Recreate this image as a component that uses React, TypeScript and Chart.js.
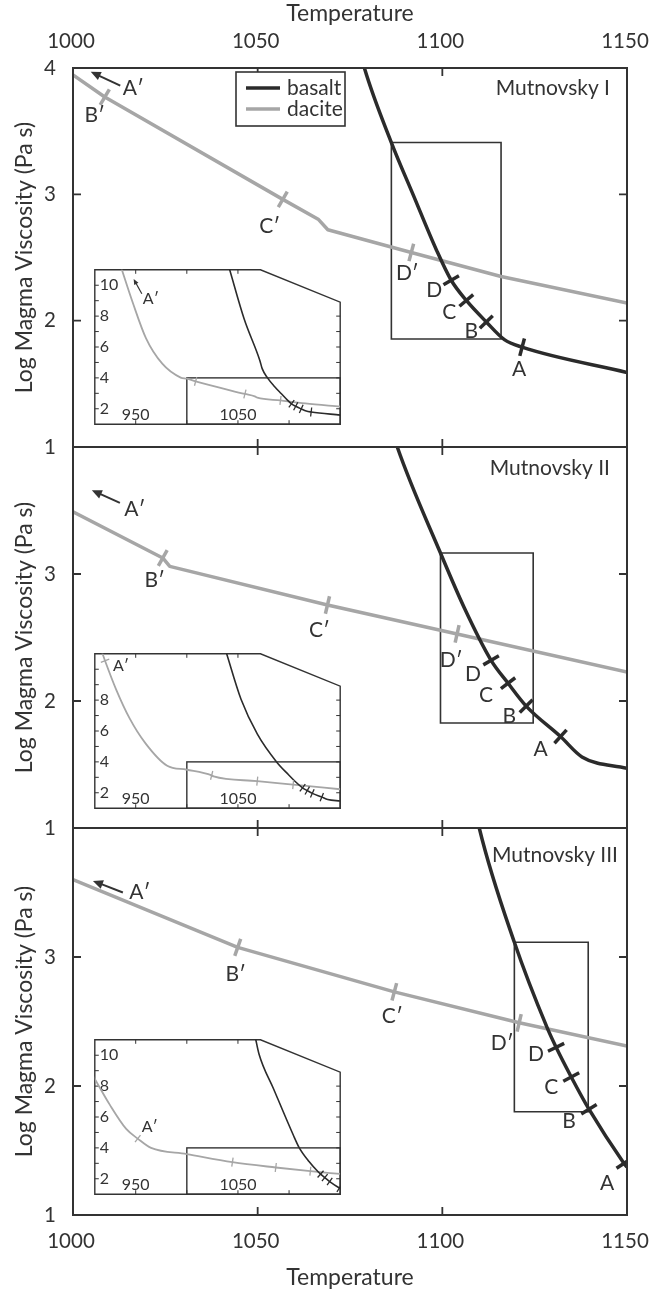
import React, { useEffect, useRef } from "react";
import { Chart, registerables } from "chart.js";

Chart.register(...registerables);

/* ------------------------------------------------------------------ */
/* data                                                                */
/* ------------------------------------------------------------------ */
const tempTicks = [1000, 1050, 1100, 1150];
const viscTicks = [1, 2, 3, 4];
const insetTempTicks = [950, 1000, 1050, 1100, 1150];
const insetTempLabels = [950, 1050];
const insetViscTicks = [1, 2, 3, 4, 5, 6, 7, 8, 9, 10, 11];
const insetViscLabels = [2, 4, 6, 8, 10];

const panelTitles = ["Mutnovsky I", "Mutnovsky II", "Mutnovsky III"];
const seriesNames = ["basalt", "dacite"];
const axisTitleX = "Temperature";
const axisTitleY = "Log Magma Viscosity (Pa s)";

// Mutnovsky I
const daciteT1 = [936, 947, 960, 976, 994, 1000, 1008.6, 1056.8, 1066.5, 1069, 1091.6, 1115.9, 1150];
const daciteV1 = [11.1, 8.9, 6.58, 4.92, 4.02, 3.945, 3.77, 2.96, 2.8, 2.72, 2.54, 2.35, 2.14];
const basaltT1 = [1041.5, 1056, 1071.4, 1073.7, 1078.9, 1086.2, 1092.2, 1098.4, 1102.4, 1106.5, 1111.9, 1116.8, 1121.6, 1150];
const basaltV1 = [11.1, 7.83, 5.13, 4.6, 4.0, 3.41, 2.99, 2.56, 2.32, 2.16, 1.99, 1.85, 1.79, 1.59];
const daciteMarkT1 = [1008.6, 1056.8, 1091.6];
const daciteMarkV1 = [3.77, 2.96, 2.54];
const daciteMarkNames1 = ["B′", "C′", "D′"];
const basaltMarkT1 = [1102.4, 1106.5, 1111.9, 1121.6];
const basaltMarkV1 = [2.32, 2.16, 1.99, 1.79];
const basaltMarkNames1 = ["D", "C", "B", "A"];
const box1 = [1086.2, 1115.9, 1.855, 3.41];

// Mutnovsky II
const daciteT2 = [916, 920, 930.8, 944.2, 959.6, 980.8, 1000, 1024.3, 1026.2, 1068.9, 1104, 1150];
const daciteV2 = [11.3, 10.55, 8.7, 6.8, 5.2, 3.75, 3.49, 3.126, 3.06, 2.756, 2.528, 2.228];
const basaltT2 = [1038.5, 1053, 1069, 1087.8, 1099.5, 1106, 1113.2, 1117.8, 1122.7, 1132, 1137.8, 1150];
const basaltV2 = [11.1, 8.06, 5.8, 4.0, 3.165, 2.73, 2.32, 2.14, 1.96, 1.72, 1.56, 1.47];
const daciteMarkT2 = [920, 1024.3, 1068.9, 1104];
const daciteMarkV2 = [10.55, 3.126, 2.756, 2.528];
const daciteMarkNames2 = ["A′", "B′", "C′", "D′"];
const basaltMarkT2 = [1113.2, 1117.8, 1122.7, 1132];
const basaltMarkV2 = [2.32, 2.14, 1.96, 1.72];
const basaltMarkNames2 = ["D", "C", "B", "A"];
const box2 = [1099.5, 1124.6, 1.827, 3.165];

// Mutnovsky III
const daciteT3 = [908, 924.6, 940.7, 952, 965, 1000, 1044.6, 1087, 1120.8, 1150];
const daciteV3 = [8.7, 6.8, 5.23, 4.6, 4.0, 3.6, 3.075, 2.73, 2.49, 2.31];
const basaltT3 = [1067, 1070.5, 1085, 1104, 1110, 1119.5, 1128.4, 1130.8, 1134.9, 1139.7, 1149.2, 1150];
const basaltV3 = [11.15, 10.1, 7.8, 4.85, 4.0, 3.114, 2.45, 2.3, 2.07, 1.82, 1.4, 1.37];
const daciteMarkT3 = [952, 1044.6, 1087, 1120.8];
const daciteMarkV3 = [4.6, 3.075, 2.73, 2.49];
const daciteMarkNames3 = ["A′", "B′", "C′", "D′"];
const basaltMarkT3 = [1130.8, 1134.9, 1139.7, 1149.2];
const basaltMarkV3 = [2.3, 2.07, 1.82, 1.4];
const basaltMarkNames3 = ["D", "C", "B", "A"];
const box3 = [1119.5, 1139.5, 1.8, 3.114];

// A′ arrows (annotation, data coordinates: head / tail)
const arrowHeadT = [1004.8, 1005.1, 1005.4];
const arrowHeadV = [3.97, 3.66, 3.59];
const arrowTailT = [1012.8, 1012.7, 1013.5];
const arrowTailV = [3.86, 3.56, 3.5];
const insetArrowHead1 = [948, 10.4];
const insetArrowTail1 = [956, 9.45];

/* ------------------------------------------------------------------ */
/* styles / layout                                                     */
/* ------------------------------------------------------------------ */
const FONT = "Lato, 'Open Sans', 'DejaVu Sans', sans-serif";
const INK = "#333333";
const BASALT_COLOR = "#2b2b2b";
const DACITE_COLOR = "#a6a6a6";
const W = 649;
const Y_AXIS_W = 73;
const RIGHT_PAD = 22;
const TICK_FONT = 20.5;
const AXIS_TITLE_FONT = 23;
const LABEL_FONT = 21;

const mainLayout = [
  { top: 0, height: 470, padTop: 0, padBottom: 23, xPos: "top", xHeight: 68 },
  { top: 430, height: 420, padTop: 17, padBottom: 22, xPos: "", xHeight: 0 },
  { top: 810, height: 481, padTop: 18, padBottom: 0, xPos: "bottom", xHeight: 76 },
];
const insetLayout = [
  { left: 92, top: 267, width: 251, height: 160 },
  { left: 92, top: 651, width: 251, height: 160 },
  { left: 92, top: 1037, width: 251, height: 160 },
];
const INSET_PAD = 3;
const insetCut = { t: 1072, v: 8.9 };

const panelStyle: any[] = [
  {
    titleDx: 17,
    titleDy: 20,
    daciteOff: [[-10, 18], [-13, 27], [-4, 21]],
    basaltOff: [[-17, 10], [-17, 12], [-15, 9], [-3, 22]],
    arrowLabelOff: [13, 3],
    insetArrowLabelOff: [9, 5],
    insetMarkLabelOff: null,
  },
  {
    titleDx: 17,
    titleDy: 21,
    daciteOff: [null, [-8, 22], [-8, 25], [-6, 26]],
    basaltOff: [[-18, 14], [-22, 12], [-17, 10], [-20, 13]],
    arrowLabelOff: [15, 6],
    insetArrowLabelOff: null,
    insetMarkLabelOff: [16, 5],
  },
  {
    titleDx: 9,
    titleDy: 27,
    daciteOff: [null, [-2, 27], [-2, 24], [-17, 20]],
    basaltOff: [[-20, 7], [-20, 10], [-20, 12], [-17, 20]],
    arrowLabelOff: [17, 0],
    insetArrowLabelOff: null,
    insetMarkLabelOff: [12, -12],
  },
];

const legendBox = { left: 236, top: 72, width: 109, height: 54 };

/* ------------------------------------------------------------------ */
/* panel tables built from the arrays                                  */
/* ------------------------------------------------------------------ */
type Curve = { t: number[]; v: number[] };
type Marks = { t: number[]; v: number[]; names: string[] };

const panels = [
  {
    title: panelTitles[0],
    dacite: { t: daciteT1, v: daciteV1 },
    basalt: { t: basaltT1, v: basaltV1 },
    daciteMarks: { t: daciteMarkT1, v: daciteMarkV1, names: daciteMarkNames1 },
    basaltMarks: { t: basaltMarkT1, v: basaltMarkV1, names: basaltMarkNames1 },
    box: box1,
  },
  {
    title: panelTitles[1],
    dacite: { t: daciteT2, v: daciteV2 },
    basalt: { t: basaltT2, v: basaltV2 },
    daciteMarks: { t: daciteMarkT2, v: daciteMarkV2, names: daciteMarkNames2 },
    basaltMarks: { t: basaltMarkT2, v: basaltMarkV2, names: basaltMarkNames2 },
    box: box2,
  },
  {
    title: panelTitles[2],
    dacite: { t: daciteT3, v: daciteV3 },
    basalt: { t: basaltT3, v: basaltV3 },
    daciteMarks: { t: daciteMarkT3, v: daciteMarkV3, names: daciteMarkNames3 },
    basaltMarks: { t: basaltMarkT3, v: basaltMarkV3, names: basaltMarkNames3 },
    box: box3,
  },
];

/* ------------------------------------------------------------------ */
/* helpers                                                             */
/* ------------------------------------------------------------------ */
function pts(t: number[], v: number[]) {
  return t.map((x, i) => ({ x, y: v[i] }));
}

function perpAngle(chart: any, curve: Curve, t: number): number {
  const xs = chart.scales.x;
  const ys = chart.scales.y;
  const T = curve.t;
  const V = curve.v;
  let a = 0;
  let b = 1;
  for (let i = 0; i < T.length - 1; i++) {
    if (t >= T[i] && t <= T[i + 1]) {
      a = i;
      b = i + 1;
      break;
    }
  }
  if (t === T[b] && b + 1 < T.length) b = b + 1;
  const dx = xs.getPixelForValue(T[b]) - xs.getPixelForValue(T[a]);
  const dy = ys.getPixelForValue(V[b]) - ys.getPixelForValue(V[a]);
  return (Math.atan2(dy, dx) * 180) / Math.PI + 90;
}

function curveDataset(curve: Curve, color: string, width: number, smooth: boolean) {
  return {
    data: pts(curve.t, curve.v),
    showLine: true,
    borderColor: color,
    borderWidth: width,
    pointRadius: 0,
    cubicInterpolationMode: smooth ? "monotone" : "default",
    tension: 0,
    borderJoinStyle: "round",
    clip: 0,
    fill: false,
  };
}

function markDataset(marks: Marks, curve: Curve, color: string, radius: number, width: number) {
  return {
    data: pts(marks.t, marks.v),
    showLine: false,
    pointStyle: "line",
    pointRadius: radius,
    pointBorderWidth: width,
    pointBorderColor: color,
    pointBackgroundColor: color,
    pointRotation: (ctx: any) => (ctx.raw ? perpAngle(ctx.chart, curve, ctx.raw.x) : 0),
  };
}

function boxDataset(box: number[]) {
  const [t0, t1, v0, v1] = box;
  return {
    data: [
      { x: t0, y: v1 },
      { x: t1, y: v1 },
      { x: t1, y: v0 },
      { x: t0, y: v0 },
      { x: t0, y: v1 },
    ],
    showLine: true,
    borderColor: INK,
    borderWidth: 1.6,
    pointRadius: 0,
    tension: 0,
    clip: 0,
  };
}

function drawArrow(ctx: CanvasRenderingContext2D, x1: number, y1: number, x2: number, y2: number, head: number, width: number) {
  const ang = Math.atan2(y2 - y1, x2 - x1);
  ctx.save();
  ctx.strokeStyle = INK;
  ctx.fillStyle = INK;
  ctx.lineWidth = width;
  ctx.beginPath();
  ctx.moveTo(x1, y1);
  ctx.lineTo(x2 - Math.cos(ang) * head * 0.7, y2 - Math.sin(ang) * head * 0.7);
  ctx.stroke();
  ctx.beginPath();
  ctx.moveTo(x2, y2);
  ctx.lineTo(x2 - head * Math.cos(ang - 0.42), y2 - head * Math.sin(ang - 0.42));
  ctx.lineTo(x2 - head * Math.cos(ang + 0.42), y2 - head * Math.sin(ang + 0.42));
  ctx.closePath();
  ctx.fill();
  ctx.restore();
}

function inside(a: any, x: number, y: number) {
  return x >= a.left - 0.5 && x <= a.right + 0.5 && y >= a.top - 0.5 && y <= a.bottom + 0.5;
}

/* ------------------------------------------------------------------ */
/* main panel chart                                                    */
/* ------------------------------------------------------------------ */
function mainConfig(i: number): any {
  const p = panels[i];
  const L = mainLayout[i];
  const S = panelStyle[i];
  const tickFont = { family: FONT, size: TICK_FONT };
  const titleFont = { family: FONT, size: AXIS_TITLE_FONT };

  const annot = {
    id: "mainAnnot" + i,
    afterDatasetsDraw(chart: any) {
      const { ctx, chartArea: a, scales } = chart;
      const x = scales.x;
      const y = scales.y;
      ctx.save();
      // frame
      ctx.strokeStyle = INK;
      ctx.lineWidth = 2;
      ctx.strokeRect(a.left, a.top, a.right - a.left, a.bottom - a.top);
      // inward ticks
      ctx.lineWidth = 1.8;
      ctx.beginPath();
      tempTicks.forEach((t) => {
        if (t <= x.min || t >= x.max) return;
        const px = x.getPixelForValue(t);
        ctx.moveTo(px, a.top);
        ctx.lineTo(px, a.top + 8);
        ctx.moveTo(px, a.bottom);
        ctx.lineTo(px, a.bottom - 8);
      });
      viscTicks.forEach((v) => {
        if (v <= y.min || v >= y.max) return;
        const py = y.getPixelForValue(v);
        ctx.moveTo(a.left, py);
        ctx.lineTo(a.left + 8, py);
        ctx.moveTo(a.right, py);
        ctx.lineTo(a.right - 8, py);
      });
      ctx.stroke();

      // mark labels
      ctx.font = `${LABEL_FONT}px ${FONT}`;
      ctx.fillStyle = INK;
      ctx.textAlign = "center";
      ctx.textBaseline = "middle";
      const lab = (m: Marks, offs: any[]) => {
        m.t.forEach((t, k) => {
          const off = offs[k];
          if (!off) return;
          const px = x.getPixelForValue(t);
          const py = y.getPixelForValue(m.v[k]);
          if (!inside(a, px, py)) return;
          ctx.fillText(m.names[k], px + off[0], py + off[1]);
        });
      };
      lab(p.daciteMarks, S.daciteOff);
      lab(p.basaltMarks, S.basaltOff);

      // A′ arrow
      const hx = x.getPixelForValue(arrowHeadT[i]);
      const hy = y.getPixelForValue(arrowHeadV[i]);
      const tx = x.getPixelForValue(arrowTailT[i]);
      const ty = y.getPixelForValue(arrowTailV[i]);
      drawArrow(ctx, tx, ty, hx, hy, 11, 2);
      ctx.fillText("A′", tx + S.arrowLabelOff[0], ty + S.arrowLabelOff[1]);

      // panel title
      ctx.textAlign = "right";
      ctx.fillText(p.title, a.right - S.titleDx, a.top + S.titleDy);

      // legend (first panel)
      if (i === 0) {
        const b = legendBox;
        ctx.fillStyle = "#ffffff";
        ctx.fillRect(b.left, b.top, b.width, b.height);
        ctx.strokeStyle = INK;
        ctx.lineWidth = 1.6;
        ctx.strokeRect(b.left, b.top, b.width, b.height);
        const colors = [BASALT_COLOR, DACITE_COLOR];
        ctx.font = `21px ${FONT}`;
        seriesNames.forEach((name, k) => {
          const yy = b.top + 16 + k * 21;
          ctx.strokeStyle = colors[k];
          ctx.lineWidth = 3.5;
          ctx.beginPath();
          ctx.moveTo(b.left + 10, yy);
          ctx.lineTo(b.left + 44, yy);
          ctx.stroke();
          ctx.fillStyle = INK;
          ctx.textAlign = "left";
          ctx.fillText(name, b.left + 51, yy);
        });
      }
      ctx.restore();
    },
  };

  return {
    type: "scatter",
    data: {
      datasets: [
        markDataset(p.basaltMarks, p.basalt, BASALT_COLOR, 9, 3.5),
        markDataset(p.daciteMarks, p.dacite, DACITE_COLOR, 9, 3.5),
        curveDataset(p.basalt, BASALT_COLOR, 3.5, true),
        curveDataset(p.dacite, DACITE_COLOR, 3.5, false),
        boxDataset(p.box),
      ],
    },
    options: {
      responsive: false,
      animation: false,
      events: [],
      layout: { padding: { left: 0, right: RIGHT_PAD, top: L.padTop, bottom: L.padBottom } },
      plugins: { legend: { display: false }, tooltip: { enabled: false }, title: { display: false } },
      scales: {
        x: {
          type: "linear",
          min: tempTicks[0],
          max: tempTicks[tempTicks.length - 1],
          position: L.xPos || "bottom",
          display: !!L.xPos,
          afterBuildTicks: (s: any) => {
            s.ticks = tempTicks.map((v) => ({ value: v }));
          },
          afterFit: (s: any) => {
            s.height = L.xHeight;
            s.paddingLeft = 0;
            s.paddingRight = 0;
          },
          ticks: {
            font: tickFont,
            color: INK,
            padding: 14,
            labelOffset: -2,
            autoSkip: false,
            maxRotation: 0,
            callback: (v: any) => String(v),
          },
          grid: { display: false, drawTicks: false },
          border: { display: false },
          title: {
            display: true,
            text: axisTitleX,
            font: titleFont,
            color: INK,
            padding: { top: 0, bottom: 0 },
          },
        },
        y: {
          type: "linear",
          min: viscTicks[0],
          max: viscTicks[viscTicks.length - 1],
          afterBuildTicks: (s: any) => {
            s.ticks = viscTicks.map((v) => ({ value: v }));
          },
          afterFit: (s: any) => {
            s.width = Y_AXIS_W;
            s.paddingTop = 0;
            s.paddingBottom = 0;
          },
          ticks: {
            font: tickFont,
            color: INK,
            padding: 17,
            autoSkip: false,
            callback: (v: any) => (i > 0 && v === viscTicks[viscTicks.length - 1] ? "" : String(v)),
          },
          grid: { display: false, drawTicks: false },
          border: { display: false },
          title: { display: true, text: axisTitleY, font: titleFont, color: INK, padding: { top: 11, bottom: 0 } },
        },
      },
    },
    plugins: [annot],
  };
}

/* ------------------------------------------------------------------ */
/* inset chart                                                         */
/* ------------------------------------------------------------------ */
function insetConfig(i: number): any {
  const p = panels[i];
  const S = panelStyle[i];
  const font = { family: FONT, size: 16 };

  const frame = {
    id: "insetFrame" + i,
    beforeDraw(chart: any) {
      const { ctx, chartArea: a, scales } = chart;
      const x = scales.x;
      const y = scales.y;
      const cutX = x.getPixelForValue(insetCut.t);
      const cutY = y.getPixelForValue(insetCut.v);
      ctx.save();
      ctx.beginPath();
      ctx.moveTo(a.left, a.bottom);
      ctx.lineTo(a.left, a.top);
      ctx.lineTo(cutX, a.top);
      ctx.lineTo(a.right, cutY);
      ctx.lineTo(a.right, a.bottom);
      ctx.closePath();
      ctx.fillStyle = "#ffffff";
      ctx.fill();
      ctx.strokeStyle = INK;
      ctx.lineWidth = 1.4;
      ctx.stroke();
      // rectangle of the main panel range
      const rx0 = x.getPixelForValue(tempTicks[0]);
      const rx1 = x.getPixelForValue(tempTicks[tempTicks.length - 1]);
      const ry0 = y.getPixelForValue(viscTicks[0]);
      const ry1 = y.getPixelForValue(viscTicks[viscTicks.length - 1]);
      ctx.strokeRect(rx0, ry1, rx1 - rx0, ry0 - ry1);
      // inward ticks
      ctx.lineWidth = 1;
      ctx.beginPath();
      insetTempTicks.forEach((t) => {
        if (t <= x.min || t >= x.max) return;
        const px = x.getPixelForValue(t);
        ctx.moveTo(px, a.bottom);
        ctx.lineTo(px, a.bottom - 4);
        if (t < insetCut.t) {
          ctx.moveTo(px, a.top);
          ctx.lineTo(px, a.top + 4);
        }
      });
      insetViscTicks.forEach((v) => {
        if (v <= y.min || v >= y.max) return;
        const py = y.getPixelForValue(v);
        ctx.moveTo(a.left, py);
        ctx.lineTo(a.left + 4, py);
        if (v < insetCut.v) {
          ctx.moveTo(a.right, py);
          ctx.lineTo(a.right - 4, py);
        }
      });
      ctx.stroke();
      ctx.restore();
    },
    afterDatasetsDraw(chart: any) {
      const { ctx, scales } = chart;
      const x = scales.x;
      const y = scales.y;
      ctx.save();
      ctx.font = `16px ${FONT}`;
      ctx.fillStyle = INK;
      ctx.textAlign = "center";
      ctx.textBaseline = "middle";
      if (S.insetMarkLabelOff) {
        const m = p.daciteMarks;
        const k = m.names.indexOf("A′");
        if (k >= 0) {
          const px = x.getPixelForValue(m.t[k]);
          const py = y.getPixelForValue(m.v[k]);
          ctx.fillText(m.names[k], px + S.insetMarkLabelOff[0], py + S.insetMarkLabelOff[1]);
        }
      }
      if (S.insetArrowLabelOff) {
        const hx = x.getPixelForValue(insetArrowHead1[0]);
        const hy = y.getPixelForValue(insetArrowHead1[1]);
        const tx = x.getPixelForValue(insetArrowTail1[0]);
        const ty = y.getPixelForValue(insetArrowTail1[1]);
        drawArrow(ctx, tx, ty, hx, hy, 6, 1.2);
        ctx.fillText("A′", tx + S.insetArrowLabelOff[0], ty + S.insetArrowLabelOff[1]);
      }
      ctx.restore();
    },
  };

  const yLabels = i === 1 ? insetViscLabels.filter((v) => v !== 10) : insetViscLabels;

  return {
    type: "scatter",
    data: {
      datasets: [
        markDataset(p.basaltMarks, p.basalt, BASALT_COLOR, 4.5, 1.3),
        markDataset(p.daciteMarks, p.dacite, DACITE_COLOR, 4.5, 1.3),
        curveDataset(p.basalt, BASALT_COLOR, 1.6, true),
        curveDataset(p.dacite, DACITE_COLOR, 1.8, true),
      ],
    },
    options: {
      responsive: false,
      animation: false,
      events: [],
      layout: { padding: INSET_PAD },
      plugins: { legend: { display: false }, tooltip: { enabled: false } },
      scales: {
        x: {
          type: "linear",
          min: 910,
          max: tempTicks[tempTicks.length - 1],
          afterBuildTicks: (s: any) => {
            s.ticks = insetTempTicks.map((v) => ({ value: v }));
          },
          afterFit: (s: any) => {
            s.height = 0;
            s.paddingLeft = 0;
            s.paddingRight = 0;
          },
          ticks: {
            mirror: true,
            padding: 0,
            font,
            color: INK,
            autoSkip: false,
            maxRotation: 0,
            callback: (v: any) => (insetTempLabels.includes(v) ? String(v) : ""),
          },
          grid: { display: false, drawTicks: false },
          border: { display: false },
        },
        y: {
          type: "linear",
          min: insetViscTicks[0],
          max: insetViscTicks[insetViscTicks.length - 1],
          afterBuildTicks: (s: any) => {
            s.ticks = insetViscTicks.map((v) => ({ value: v }));
          },
          afterFit: (s: any) => {
            s.width = 0;
            s.paddingTop = 0;
            s.paddingBottom = 0;
          },
          ticks: {
            mirror: true,
            padding: 5,
            font,
            color: INK,
            autoSkip: false,
            callback: (v: any) => (yLabels.includes(v) ? String(v) : ""),
          },
          grid: { display: false, drawTicks: false },
          border: { display: false },
        },
      },
    },
    plugins: [frame],
  };
}

/* ------------------------------------------------------------------ */
/* component                                                           */
/* ------------------------------------------------------------------ */
export default function App() {
  const refs = useRef<(HTMLCanvasElement | null)[]>([]);

  useEffect(() => {
    const charts: Chart[] = [];
    for (let i = 0; i < 3; i++) {
      const c = refs.current[i];
      if (c) charts.push(new Chart(c, mainConfig(i)));
    }
    for (let i = 0; i < 3; i++) {
      const c = refs.current[3 + i];
      if (c) charts.push(new Chart(c, insetConfig(i)));
    }
    return () => charts.forEach((c) => c.destroy());
  }, []);

  const canvases: any[] = [];
  mainLayout.forEach((L, i) => {
    canvases.push({ key: "m" + i, left: 0, top: L.top, width: W, height: L.height, idx: i });
  });
  insetLayout.forEach((L, i) => {
    canvases.push({
      key: "i" + i,
      left: L.left - INSET_PAD,
      top: L.top - INSET_PAD,
      width: L.width + 2 * INSET_PAD,
      height: L.height + 2 * INSET_PAD,
      idx: 3 + i,
    });
  });

  return (
    <div style={{ position: "absolute", left: 0, top: 0, width: W, height: 1291, background: "#ffffff", overflow: "hidden" }}>
      {canvases.map((c) => (
        <canvas
          key={c.key}
          ref={(el) => {
            refs.current[c.idx] = el;
          }}
          width={c.width}
          height={c.height}
          style={{ position: "absolute", left: c.left, top: c.top, width: c.width, height: c.height }}
        />
      ))}
    </div>
  );
}
